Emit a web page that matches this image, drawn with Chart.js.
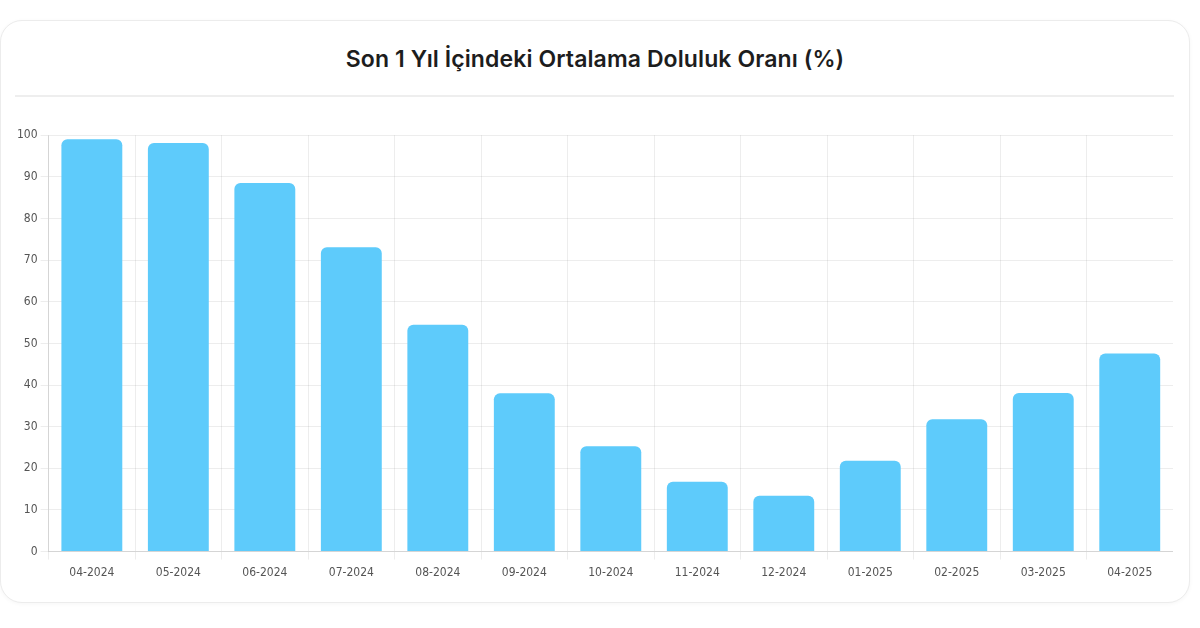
<!DOCTYPE html>
<html>
<head>
    <title>Doluluk Oranı</title>
    <script src="https://cdn.jsdelivr.net/npm/chart.js"></script>
    <style>
        body {
            margin: 0;
            background: #fff;
            font-family: Inter, 'Noto Sans', sans-serif;
        }
        .card {
            position: absolute;
            left: 0;
            top: 20px;
            width: 1190px;
            height: 583px;
            box-sizing: border-box;
            border: 1px solid #ececec;
            border-radius: 22px;
            background: #fff;
            box-shadow: 0 1px 4px rgba(0,0,0,0.04);
        }
        .card h2 {
            margin: 0;
            position: absolute;
            left: 0;
            right: 0;
            top: 24px;
            text-align: center;
            font-size: 23px;
            font-weight: 600;
            color: #1d1d1d;
            letter-spacing: 0.1px;
        }
        .card hr {
            position: absolute;
            left: 14px;
            width: 1159px;
            top: 74px;
            margin: 0;
            border: 0;
            border-top: 2px solid #eeeeee;
        }
        .chart-container {
            position: absolute;
            left: 13px;
            top: 104px;
            width: 1159px;
            height: 461px;
        }
    </style>
</head>
<body>
    <div class="card">
        <h2>Son 1 Yıl İçindeki Ortalama Doluluk Oranı (%)</h2>
        <hr>
        <div class="chart-container">
            <canvas id="occupancyChart"></canvas>
        </div>
    </div>

    <script>
        // months shown on the x axis
        const months = ['04-2024', '05-2024', '06-2024', '07-2024', '08-2024', '09-2024', '10-2024',
                        '11-2024', '12-2024', '01-2025', '02-2025', '03-2025', '04-2025'];

        // average occupancy (%) per month
        const occupancy = [99.0, 98.1, 88.5, 73.1, 54.5, 38.0, 25.3, 16.8, 13.4, 21.8, 31.8, 38.1, 47.6];

        const tickFont = {
            family: "'Liberation Sans Narrow', 'DejaVu Sans Condensed', sans-serif",
            size: 12
        };

        new Chart(document.getElementById('occupancyChart'), {
            type: 'bar',
            data: {
                labels: months,
                datasets: [{
                    label: 'Doluluk Oranı',
                    data: occupancy,
                    backgroundColor: '#5ecbfb',
                    borderRadius: 6,
                    borderSkipped: 'bottom',
                    categoryPercentage: 0.8,
                    barPercentage: 0.88
                }]
            },
            options: {
                responsive: true,
                maintainAspectRatio: false,
                animation: false,
                plugins: {
                    legend: { display: false },
                    tooltip: { enabled: false }
                },
                scales: {
                    x: {
                        grid: { color: 'rgba(0,0,0,0.07)' },
                        ticks: { color: '#555', font: tickFont, padding: 6 }
                    },
                    y: {
                        min: 0,
                        max: 100,
                        grid: { color: 'rgba(0,0,0,0.07)' },
                        ticks: { stepSize: 10, color: '#555', font: tickFont }
                    }
                }
            }
        });
    </script>
</body>
</html>
